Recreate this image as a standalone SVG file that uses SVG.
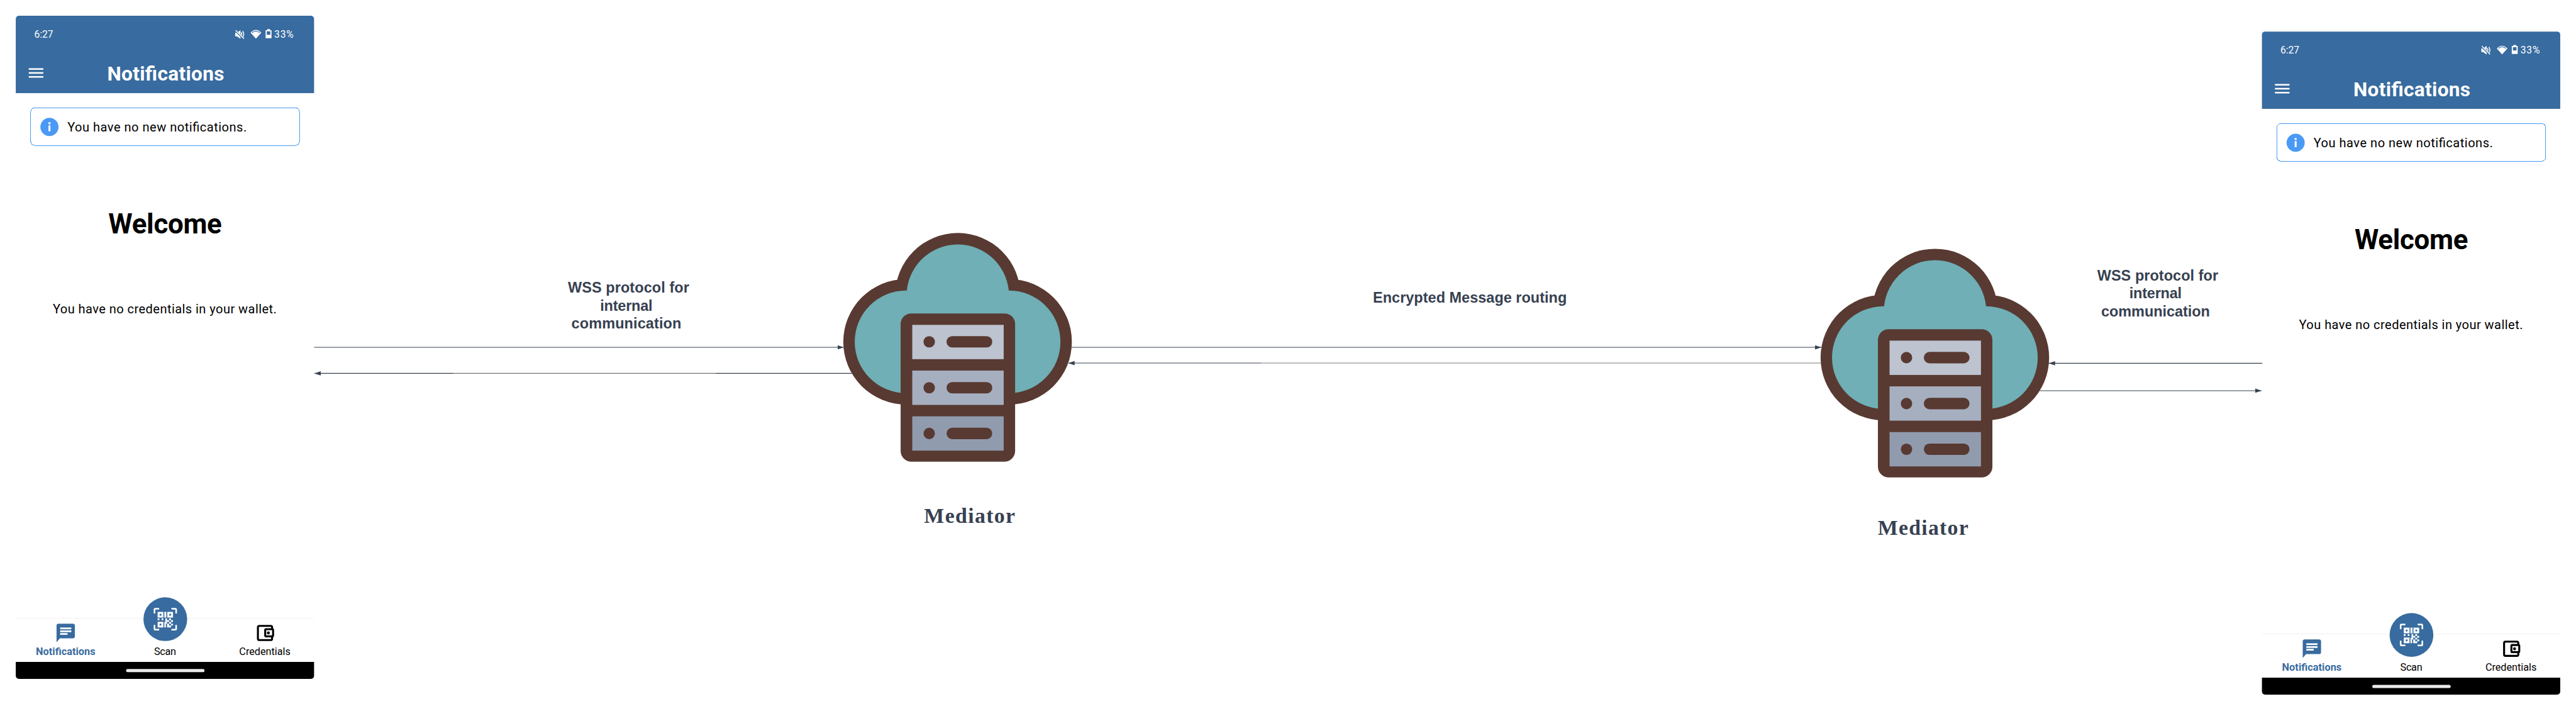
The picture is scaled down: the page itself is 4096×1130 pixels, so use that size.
<svg xmlns="http://www.w3.org/2000/svg" width="4096" height="1130" viewBox="0 0 4096 1130">
<style>
.rb{font-family:Roboto,"Liberation Sans",sans-serif}
.w{fill:#fff}
.k{fill:#000}
.blue{fill:#386b9f}
.lbl{font-family:"Liberation Sans",Arial,sans-serif;font-weight:700;font-size:37.5px;fill:#374151}
.med{font-family:"Liberation Serif","DejaVu Serif",serif;font-size:54px;font-weight:700;fill:#374151}
.cn{stroke:#374151;stroke-width:1.7;fill:none}
.fw{marker-end:url(#ah)}
.br{fill:#583a32}
.te{fill:#6fafb5}
.bb{fill:#fff;stroke:#000;stroke-width:5}
</style>
<defs>
<marker id="ah" markerUnits="userSpaceOnUse" markerWidth="16" markerHeight="12" refX="16" refY="6" orient="auto"><path d="M0 .6L16 6L0 11.4Z" fill="#374151"/></marker>
<linearGradient id="g1" gradientUnits="userSpaceOnUse" x1="798" y1="0" x2="2162" y2="0">
<stop offset=".258" stop-color="#374151"/><stop offset=".258" stop-color="#777"/><stop offset=".746" stop-color="#777"/><stop offset=".746" stop-color="#374151"/>
</linearGradient>
<linearGradient id="g2" gradientUnits="userSpaceOnUse" x1="2711" y1="0" x2="4622" y2="0">
<stop offset=".256" stop-color="#374151"/><stop offset=".256" stop-color="#777"/>
</linearGradient>
<g id="cloud">
<circle class="br" cx="2299" cy="867" r="159"/><circle class="br" cx="2430.500" cy="750" r="159"/><circle class="br" cx="2561" cy="867" r="159"/>
<rect class="te" x="2299" y="760" width="262" height="236"/>
<circle class="te" cx="2299" cy="867" r="130"/><circle class="te" cx="2430.500" cy="750" r="130"/><circle class="te" cx="2561" cy="867" r="130"/>
<rect class="br" x="2285.500" y="795" width="290.500" height="376" rx="27"/>
<rect fill="#bdc3cf" x="2315" y="824" width="232" height="87"/>
<rect fill="#a6afc0" x="2315" y="940" width="232" height="87"/>
<rect fill="#919bae" x="2315" y="1056" width="232" height="87"/>
<circle class="br" cx="2358" cy="867" r="14.500"/><rect class="br" x="2402" y="852.500" width="116" height="29" rx="14.500"/>
<circle class="br" cx="2358" cy="983.500" r="14.500"/><rect class="br" x="2402" y="969" width="116" height="29" rx="14.500"/>
<circle class="br" cx="2358" cy="1099.500" r="14.500"/><rect class="br" x="2402" y="1085" width="116" height="29" rx="14.500"/>
</g>
<g id="chrome">
<path class="blue" d="M40 48a8 8 0 0 1 8-8H789a8 8 0 0 1 8 8V236H40Z"/>
<g fill="none" stroke="#fff" stroke-width="2.400">
<path d="M598 84h4l7 -5v17l-7 -5h-4Z" fill="#fff"/>
<path d="M612 82q3 5 0 10M616 79q5 8 0 16"/>
</g>
<path d="M599 79L618 98" stroke="#386b9f" stroke-width="5" fill="none"/>
<path d="M598 77L619 98" stroke="#fff" stroke-width="2.400" fill="none"/>
<path class="w" d="M636 83Q649.500 69 663 83L649.500 98Z"/>
<path d="M640 83Q649.500 74.500 659 83" fill="none" stroke="#386b9f" stroke-width="2"/>
<path class="w" fill-rule="evenodd" d="M678 74h7v2.500h4V97H674V76.500h4ZM677 79.500V88h9V79.500Z"/>
<rect class="w" x="73" y="173" width="37" height="4"/><rect class="w" x="73" y="183" width="37" height="4"/><rect class="w" x="73" y="193" width="37" height="4"/>
<rect x="78" y="273.700" width="682" height="95" rx="10" fill="#fff" stroke="#4a9af5" stroke-width="1.600" shape-rendering="crispEdges"/>
<circle cx="125.500" cy="322" r="23" fill="#4a9af5"/>
<rect class="w" x="123" y="310" width="5" height="5"/><rect class="w" x="123" y="318" width="5" height="15"/>
<rect x="40" y="1567" width="757" height="2" fill="#f3f3f3"/>
<path class="blue" d="M149 1582H185a5 5 0 0 1 5 5V1614a5 5 0 0 1-5 5H152L143.500 1629V1587a5 5 0 0 1 5-5Z"/>
<rect class="w" x="152.600" y="1591.700" width="28.400" height="4.400"/><rect class="w" x="152.600" y="1599" width="28.400" height="4.400"/><rect class="w" x="152.600" y="1605.800" width="18.800" height="4.400"/>
<circle class="blue" cx="419.500" cy="1570.500" r="55.500"/>
<g fill="none" stroke="#fff" stroke-width="4">
<path d="M392 1556V1546a2 2 0 0 1 2-2H404M447 1556V1546a2 2 0 0 0-2-2H435M392 1585V1595a2 2 0 0 0 2 2H404M447 1585V1595a2 2 0 0 1-2 2H435"/>
</g>
<g class="w" fill-rule="evenodd">
<path d="M400 1552h14.500v14.500H400ZM405 1557v4.500h4.500V1557Z"/>
<path d="M424.500 1552H439v14.500H424.500ZM429.500 1557v4.500h4.500V1557Z"/>
<path d="M400 1577H414.500V1591.500H400ZM405 1582v4.500h4.500V1582Z"/>
<rect x="417" y="1552" width="5" height="14.500"/>
<rect x="400" y="1568.500" width="4.500" height="4.500"/><rect x="410" y="1568.500" width="4.500" height="4.500"/>
<rect x="419.500" y="1568.500" width="4.500" height="9"/><rect x="429" y="1568.500" width="5" height="4.500"/>
<rect x="424" y="1573" width="5" height="4.500"/><rect x="434" y="1573" width="5" height="4.500"/>
<rect x="417" y="1577.500" width="7" height="4.500"/><rect x="429" y="1577.500" width="5" height="4.500"/>
<rect x="424" y="1582" width="5" height="9.500"/><rect x="434" y="1582" width="5" height="4.500"/>
<rect x="417" y="1582" width="4" height="9.500"/><rect x="429" y="1586.500" width="5" height="5"/>
</g>
<rect class="bb" x="654.500" y="1587.500" width="36" height="36" rx="3.500" fill="none"/>
<rect class="bb" x="673" y="1596" width="20" height="18" rx="2"/>
<circle class="k" cx="681" cy="1605.500" r="3.800"/>
<path class="k" d="M40 1679H797V1714a8 8 0 0 1-8 8H48a8 8 0 0 1-8-8Z"/>
<rect x="320" y="1697" width="199" height="8" rx="4" fill="#ebebeb"/>
</g>
</defs>
<rect width="4096" height="1130" fill="#fff"/>
<g transform="scale(.62659)">
<g id="phone-left">
<use href="#chrome"/>
<text class="rb w" x="87" y="96" font-size="25" textLength="48">6:27</text>
<text class="rb w" x="696" y="95" font-size="25" textLength="49">33%</text>
<text class="rb w" x="272" y="204" font-size="50.500" font-weight="700" textLength="297">Notifications</text>
<text class="rb k" x="171" y="334" font-size="32" textLength="455">You have no new notifications.</text>
<text class="rb k" x="275" y="591.500" font-size="70" font-weight="700" textLength="288">Welcome</text>
<text class="rb k" x="134" y="794" font-size="32" textLength="568">You have no credentials in your wallet.</text>
<text class="rb blue" x="91" y="1662" font-size="26" font-weight="700" textLength="151">Notifications</text>
<text class="rb k" x="391" y="1662" font-size="26" textLength="56">Scan</text>
<text class="rb k" x="607" y="1662" font-size="26" textLength="130">Credentials</text>
</g>
<g id="mediator-left">
<use href="#cloud"/>
<text class="med" x="2345" y="1327" textLength="231">Mediator</text>
</g>
<g id="mediator-right">
<use href="#cloud" transform="translate(2480 40)"/>
<text class="med" x="4765" y="1356.700" textLength="230">Mediator</text>
</g>
<g id="phone-right">
<use href="#chrome" transform="translate(5700 40)"/>
<text class="rb w" x="5787" y="136" font-size="25" textLength="48">6:27</text>
<text class="rb w" x="6396" y="135" font-size="25" textLength="49">33%</text>
<text class="rb w" x="5972" y="244" font-size="50.500" font-weight="700" textLength="297">Notifications</text>
<text class="rb k" x="5871" y="374" font-size="32" textLength="455">You have no new notifications.</text>
<text class="rb k" x="5975" y="631.500" font-size="70" font-weight="700" textLength="288">Welcome</text>
<text class="rb k" x="5834" y="834" font-size="32" textLength="568">You have no credentials in your wallet.</text>
<text class="rb blue" x="5791" y="1702" font-size="26" font-weight="700" textLength="151">Notifications</text>
<text class="rb k" x="6091" y="1702" font-size="26" textLength="56">Scan</text>
<text class="rb k" x="6307" y="1702" font-size="26" textLength="130">Credentials</text>
</g>
<g id="connectors">
<line class="cn fw" x1="797" y1="881" x2="2141" y2="881"/>
<line class="cn fw" x1="2162" y1="947" x2="798" y2="947" style="stroke:url(#g1)"/>
<line class="cn fw" x1="2719" y1="881" x2="4622" y2="881"/>
<line class="cn fw" x1="4622" y1="921" x2="2711" y2="921" style="stroke:url(#g2)"/>
<line class="cn fw" x1="5741" y1="921.500" x2="5199" y2="921.500"/>
<line class="cn fw" x1="5176" y1="991" x2="5739" y2="991"/>
</g>
<g id="labels">
<text class="lbl" x="1441" y="742.700" textLength="308">WSS protocol for</text>
<text class="lbl" x="1523" y="788" textLength="133">internal</text>
<text class="lbl" x="1450" y="833.700" textLength="279">communication</text>
<text class="lbl" x="3484" y="767" textLength="492">Encrypted Message routing</text>
<text class="lbl" x="5322" y="711.700" textLength="307">WSS protocol for</text>
<text class="lbl" x="5403.500" y="757" textLength="133">internal</text>
<text class="lbl" x="5332" y="802.700" textLength="276">communication</text>
</g>
</g>
</svg>
